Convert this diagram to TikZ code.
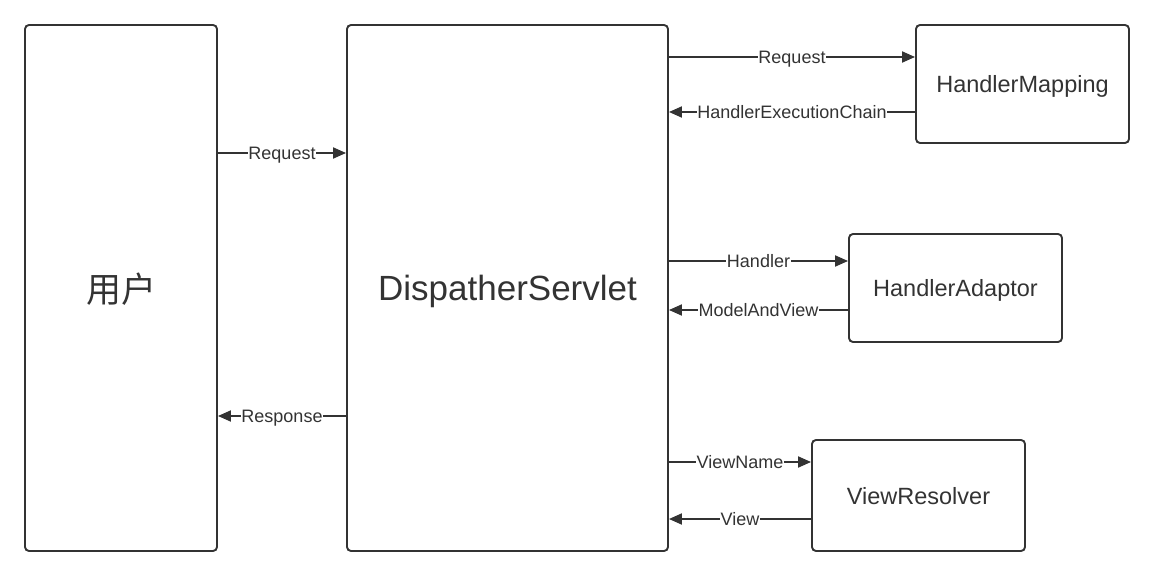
\documentclass[tikz,border=0pt]{standalone}
\usepackage{fontspec}
\setmainfont{Liberation Sans}
\newfontfamily\cjk{Noto Sans CJK SC}
\usetikzlibrary{arrows.meta}
\definecolor{ink}{HTML}{333333}
\begin{document}
\begin{tikzpicture}[x=1pt,y=-1pt,
    box/.style={draw=ink,line width=1.9pt,rounded corners=4pt,
      minimum width=#1,inner sep=0pt,text=ink,text depth=0pt},
    flow/.style={draw=ink,line width=1.9pt,-{Triangle[length=13pt,width=11pt]}},
    lbl/.style={fill=white,inner sep=0.6pt,text=ink,text depth=0pt,
      font=\fontsize{18}{20}\selectfont}]
  \useasboundingbox (0,0) rectangle (1154,577);
  % the two tall boxes
  \node[box=192pt,minimum height=526pt,font=\cjk\fontsize{35}{40}\selectfont]
    (user) at (121,288) {用户};
  \node[box=321pt,minimum height=526pt,font=\fontsize{35}{40}\selectfont]
    (disp) at (507.5,288) {DispatherServlet};
  % the three boxes on the right
  \node[box=213pt,minimum height=118pt,font=\fontsize{23.5}{28}\selectfont]
    (mapping) at (1022.5,84) {HandlerMapping};
  \node[box=213pt,minimum height=108pt,font=\fontsize{23.5}{28}\selectfont]
    (adaptor) at (955.5,288) {HandlerAdaptor};
  \node[box=213pt,minimum height=111pt,font=\fontsize{23.5}{28}\selectfont]
    (resolver) at (918.5,495.5) {ViewResolver};
  % user <-> dispatcher
  \draw[flow] (user.east |- 0,153) -- node[lbl] {Request} (disp.west |- 0,153);
  \draw[flow] (disp.west |- 0,416) -- node[lbl] {Response} (user.east |- 0,416);
  % dispatcher <-> handler mapping
  \draw[flow] (disp.east |- 0,57) -- node[lbl] {Request} (mapping.west |- 0,57);
  \draw[flow] (mapping.west |- 0,112) -- node[lbl] {HandlerExecutionChain} (disp.east |- 0,112);
  % dispatcher <-> handler adaptor
  \draw[flow] (disp.east |- 0,261) -- node[lbl] {Handler} (adaptor.west |- 0,261);
  \draw[flow] (adaptor.west |- 0,310) -- node[lbl] {ModelAndView} (disp.east |- 0,310);
  % dispatcher <-> view resolver
  \draw[flow] (disp.east |- 0,462) -- node[lbl] {ViewName} (resolver.west |- 0,462);
  \draw[flow] (resolver.west |- 0,519) -- node[lbl] {View} (disp.east |- 0,519);
\end{tikzpicture}
\end{document}
